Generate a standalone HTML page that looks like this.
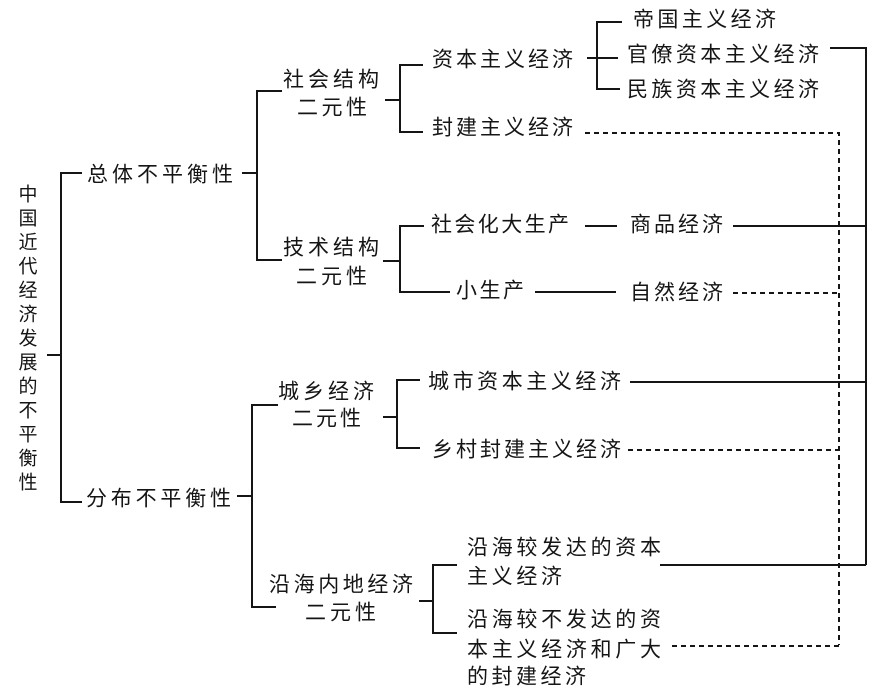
<!DOCTYPE html>
<html>
<head>
<meta charset="utf-8">
<style>
  html, body { margin: 0; padding: 0; background: #ffffff; }
  svg { display: block; }
  text { font-family: "Liberation Sans", "Noto Sans CJK SC", sans-serif; fill: #151515; dominant-baseline: central; }
  .b { font-size: 21px; }
  .t { font-size: 19px; }
</style>
</head>
<body>
<svg width="871" height="690" viewBox="0 0 871 690" xmlns="http://www.w3.org/2000/svg">
  <rect width="871" height="690" fill="#ffffff"/>
  <g fill="none" stroke="#151515" stroke-width="2">
    <!-- main bracket -->
    <path d="M82,173 H61 V502 H82"/>
    <path d="M47,355 H61"/>
    <!-- 总体 group -->
    <path d="M242,173 H257"/>
    <path d="M282,91 H257 V260 H282"/>
    <!-- 社会结构 -->
    <path d="M385,100 H400"/>
    <path d="M423,65 H400 V132 H423"/>
    <!-- 资本主义经济 -->
    <path d="M587,58 H618"/>
    <path d="M622,22 H597 V89 H620"/>
    <!-- 技术结构 -->
    <path d="M383,261 H400"/>
    <path d="M424,226 H400 V292 H450"/>
    <path d="M585,226 H617"/>
    <path d="M733,226 H866"/>
    <path d="M535,292 H616"/>
    <!-- right solid collector -->
    <path d="M830,48 H866 V565"/>
    <!-- 分布 group -->
    <path d="M237,496 H252"/>
    <path d="M278,405 H252 V607 H276"/>
    <!-- 城乡 -->
    <path d="M383,417 H397"/>
    <path d="M420,380 H397 V448 H420"/>
    <path d="M630,382 H866"/>
    <!-- 沿海内地 -->
    <path d="M419,601 H433"/>
    <path d="M457,565 H433 V633 H457"/>
    <path d="M660,565 H866"/>
  </g>
  <g fill="none" stroke="#151515" stroke-width="2" stroke-dasharray="5,4">
    <path d="M585,133 H839 V645"/>
    <path d="M733,293 H839"/>
    <path d="M628,450 H839"/>
    <path d="M672,646 H839"/>
  </g>

  <!-- vertical title -->
  <g class="t" text-anchor="middle">
    <text class="t" x="28" y="195">中</text>
    <text class="t" x="28" y="219">国</text>
    <text class="t" x="28" y="243">近</text>
    <text class="t" x="28" y="267">代</text>
    <text class="t" x="28" y="291">经</text>
    <text class="t" x="28" y="315">济</text>
    <text class="t" x="28" y="339">发</text>
    <text class="t" x="28" y="363">展</text>
    <text class="t" x="28" y="387">的</text>
    <text class="t" x="28" y="411">不</text>
    <text class="t" x="28" y="435">平</text>
    <text class="t" x="28" y="459">衡</text>
    <text class="t" x="28" y="483">性</text>
  </g>

  <!-- body texts -->
  <text class="b" x="87" y="175" textLength="146" lengthAdjust="spacing">总体不平衡性</text>
  <text class="b" x="283" y="80" textLength="96" lengthAdjust="spacing">社会结构</text>
  <text class="b" x="297" y="108" textLength="70" lengthAdjust="spacing">二元性</text>
  <text class="b" x="283" y="248" textLength="96" lengthAdjust="spacing">技术结构</text>
  <text class="b" x="296" y="277" textLength="71" lengthAdjust="spacing">二元性</text>

  <text class="b" x="432" y="60" textLength="141" lengthAdjust="spacing">资本主义经济</text>
  <text class="b" x="432" y="128" textLength="141" lengthAdjust="spacing">封建主义经济</text>
  <text class="b" x="633" y="20" textLength="143" lengthAdjust="spacing">帝国主义经济</text>
  <text class="b" x="627" y="55" textLength="192" lengthAdjust="spacing">官僚资本主义经济</text>
  <text class="b" x="627" y="90" textLength="192" lengthAdjust="spacing">民族资本主义经济</text>

  <text class="b" x="431" y="225" textLength="138" lengthAdjust="spacing">社会化大生产</text>
  <text class="b" x="630" y="225" textLength="93" lengthAdjust="spacing">商品经济</text>
  <text class="b" x="456" y="291" textLength="68" lengthAdjust="spacing">小生产</text>
  <text class="b" x="630" y="293" textLength="93" lengthAdjust="spacing">自然经济</text>

  <text class="b" x="86" y="499" textLength="145" lengthAdjust="spacing">分布不平衡性</text>
  <text class="b" x="278" y="392" textLength="96" lengthAdjust="spacing">城乡经济</text>
  <text class="b" x="292" y="419" textLength="69" lengthAdjust="spacing">二元性</text>
  <text class="b" x="269" y="585" textLength="144" lengthAdjust="spacing">沿海内地经济</text>
  <text class="b" x="305" y="613" textLength="71" lengthAdjust="spacing">二元性</text>

  <text class="b" x="428" y="382" textLength="193" lengthAdjust="spacing">城市资本主义经济</text>
  <text class="b" x="432" y="450" textLength="189" lengthAdjust="spacing">乡村封建主义经济</text>

  <text class="b" x="467" y="548" textLength="194" lengthAdjust="spacing">沿海较发达的资本</text>
  <text class="b" x="467" y="577" textLength="95" lengthAdjust="spacing">主义经济</text>
  <text class="b" x="467" y="620" textLength="194" lengthAdjust="spacing">沿海较不发达的资</text>
  <text class="b" x="467" y="650" textLength="194" lengthAdjust="spacing">本主义经济和广大</text>
  <text class="b" x="467" y="677" textLength="119" lengthAdjust="spacing">的封建经济</text>
</svg>
</body>
</html>
